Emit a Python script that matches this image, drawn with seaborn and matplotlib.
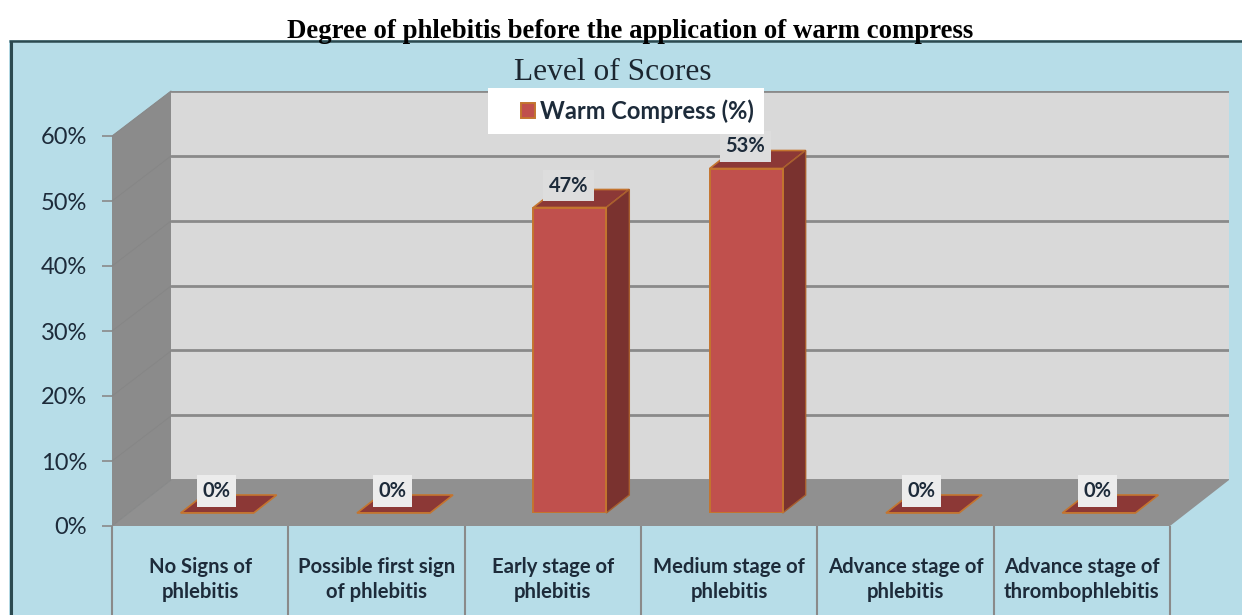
import matplotlib
matplotlib.use("Agg")
import matplotlib.pyplot as plt
import seaborn as sns
import pandas as pd
from matplotlib.patches import Polygon, Rectangle
from matplotlib.transforms import IdentityTransform

categories = ["No Signs of\nphlebitis", "Possible first sign\nof phlebitis", "Early stage of\nphlebitis",
              "Medium stage of\nphlebitis", "Advance stage of\nphlebitis", "Advance stage of\nthrombophlebitis"]
values = [0, 0, 47, 53, 0, 0]
y_ticks = [0, 10, 20, 30, 40, 50, 60]
series_name = "Warm Compress (%)"
fig_title = "Degree of phlebitis before the application of warm compress"
chart_title = "Level of Scores"

W, H = 1242, 615
sns.set_theme(style="white")
plt.rcParams["font.family"] = ["Lato", "DejaVu Sans"]
fig = plt.figure(figsize=(W / 100, H / 100), dpi=100, facecolor="white")

def axes_px(x0, y0, x1, y1, **kw):
    return fig.add_axes([x0 / W, 1 - y1 / H, (x1 - x0) / W, (y1 - y0) / H], **kw)

INK = "#1d2b3a"
# page / chart area in pixel coordinates
bg = axes_px(0, 0, W, H)
bg.set_xlim(0, W); bg.set_ylim(H, 0); bg.axis("off")
bg.add_patch(Rectangle((9, 40), W - 9, H - 40, fc="#b7dde8", ec="none"))
bg.plot([11, 11], [41, H], color="#2c4a50", lw=2.2, solid_capstyle="butt")
bg.plot([9, W], [41, 41], color="#2c4a50", lw=1.8, solid_capstyle="butt")
bg.add_patch(Polygon([(112, 136), (171, 91), (171, 480), (112, 526)], fc="#8b8b8b", ec="none"))
bg.add_patch(Polygon([(112, 526), (171, 480), (1229, 480), (1170, 526)], fc="#909090", ec="none"))
for k in range(7):
    bg.plot([112, 171], [526 - 65 * k, 480 - 65 * k + (1 if k else 0)], color="#868686", lw=0.7)
bg.text(630.5, 31, fig_title, ha="center", va="center", fontsize=15.2 * 685 / 540, fontweight="bold",
        family="Liberation Serif", color="black")
bg.text(613, 73, chart_title, ha="center", va="center", fontsize=22.6, family="Liberation Serif", color="#1c2630")

# back wall
back = axes_px(171, 91, 1229, 480)
back.set_facecolor("#d9d9d9")
back.set_ylim(0, 60); back.set_xlim(0, 1)
back.set_yticks(y_ticks); back.set_xticks([])
back.tick_params(left=False, labelleft=False)
back.grid(axis="y", color="#8a8a8a", lw=2)
back.set_axisbelow(True)
sns.despine(ax=back, left=True, bottom=True, right=True, top=True)

# front plane: value ticks and category table
plane = axes_px(112, 136, 1170, 526)
plane.patch.set_alpha(0)
plane.set_xlim(-0.5, 5.5); plane.set_ylim(0, 60)
plane.set_yticks(y_ticks)
plane.set_yticklabels([f"{t}%" for t in y_ticks], fontsize=17, color=INK)
plane.set_xticks(range(len(categories)))
plane.set_xticklabels(categories, fontsize=14.6, fontweight="bold", color=INK, linespacing=1.33)
plane.set_xticks([i - 0.5 for i in range(len(categories) + 1)], minor=True)
plane.tick_params(axis="y", left=True, length=7, width=1.2, color="#8a8a8a", pad=11)
plane.tick_params(axis="x", which="major", bottom=False, pad=16)
plane.tick_params(axis="x", which="minor", bottom=True, length=66, width=1.5, color="#8a8a8a")
for s in plane.spines.values():
    s.set_visible(False)

# bars, set back from the front plane
bars = axes_px(129, 123, 1187, 513)
bars.patch.set_alpha(0)
df = pd.DataFrame({"category": categories, "value": values})
sns.barplot(data=df, x="category", y="value", ax=bars, color="#c0504d", saturation=1, width=0.414,
            edgecolor="#c4752f", linewidth=1.4, label=series_name, legend=False, zorder=3)
bars.set_xlim(-0.5, 5.5); bars.set_ylim(0, 60)
bars.set_xlabel(""); bars.set_ylabel("")
bars.set_xticks([]); bars.set_yticks([])
for s in bars.spines.values():
    s.set_visible(False)

half = 0.207
dx = 23 / (1058 / 6)
dy = 18 / 6.5
for i, v in enumerate(values):
    top = [(i - half, v), (i + half, v), (i + half + dx, v + dy), (i - half + dx, v + dy)]
    bars.add_patch(Polygon(top, fc="#8c3836", ec="#c4752f", lw=1.2, zorder=2, clip_on=False))
    if v > 0:
        side = [(i + half, 0), (i + half + dx, dy), (i + half + dx, v + dy), (i + half, v)]
        bars.add_patch(Polygon(side, fc="#7a322f", ec="#a85f2e", lw=1.0, zorder=2, clip_on=False))
    bars.annotate(f"{v}%", xy=(i, v), xytext=(-1, 22), textcoords="offset pixels", ha="center", va="center",
                  fontsize=14.5, fontweight="bold", color=INK, zorder=5, annotation_clip=False,
                  bbox=dict(fc="#ececec" if v == 0 else "#dddddd", ec="none",
                            boxstyle="square,pad=0.28"))

# white legend panel, wider on the left than the entry itself
bars.add_patch(Rectangle((488, H - 134), 276, 46, transform=IdentityTransform(), fc="white", ec="none",
                         zorder=8, clip_on=False))
leg = bars.legend(loc="center", bbox_to_anchor=(637.5 / W, 1 - 111 / H), bbox_transform=fig.transFigure,
                  fontsize=17, frameon=False, borderpad=0, handlelength=0.56, handleheight=0.6,
                  handletextpad=0.22, borderaxespad=0, labelspacing=0)
leg.set_zorder(10)
for t in leg.get_texts():
    t.set_color(INK); t.set_fontweight("bold")

fig.savefig("out.png", dpi=100, facecolor="white")
